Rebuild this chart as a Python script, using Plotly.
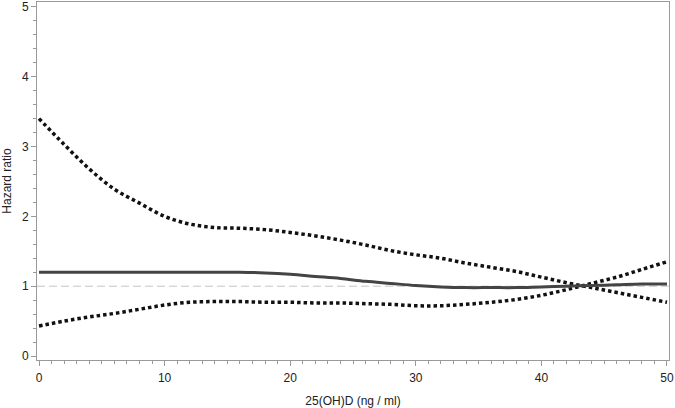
import plotly.graph_objects as go

# 25(OH)D values (ng/ml) and estimated hazard ratio curve with 95% CI
vitd = [0, 2, 4, 6, 8, 10, 12, 14, 16, 18, 20, 22, 24, 26, 28, 30, 32, 34, 36, 38, 40, 42, 44, 46, 48, 50]
hr = [1.20, 1.20, 1.20, 1.20, 1.20, 1.20, 1.20, 1.20, 1.20, 1.19, 1.17, 1.14, 1.11, 1.07, 1.04, 1.01,
      0.99, 0.98, 0.98, 0.98, 0.99, 1.00, 1.01, 1.02, 1.03, 1.03]
hr_upper = [3.40, 3.03, 2.68, 2.39, 2.19, 2.00, 1.89, 1.84, 1.83, 1.81, 1.77, 1.72, 1.66, 1.59, 1.51, 1.45,
            1.40, 1.33, 1.27, 1.21, 1.13, 1.05, 0.98, 0.91, 0.84, 0.77]
hr_lower = [0.43, 0.50, 0.56, 0.61, 0.67, 0.73, 0.77, 0.78, 0.78, 0.77, 0.77, 0.76, 0.76, 0.75, 0.74, 0.72,
            0.72, 0.74, 0.77, 0.81, 0.87, 0.95, 1.04, 1.13, 1.24, 1.35]

fig = go.Figure()

# reference line at HR = 1
fig.add_hline(y=1, line=dict(color="#c4c4c4", width=1, dash="8px,4px"), layer="below")

for ys in (hr_upper, hr_lower):
    fig.add_trace(go.Scatter(x=vitd, y=ys, mode="lines", line_shape="spline",
                             line=dict(color="#111111", width=3.5, dash="3.5px,3px")))

fig.add_trace(go.Scatter(x=vitd, y=hr, mode="lines", line_shape="spline",
                         line=dict(color="#444444", width=3)))

axis_common = dict(
    showline=True, linecolor="#9a9a9a", linewidth=1, mirror=True,
    ticks="outside", tickcolor="#9a9a9a", ticklen=5, tickwidth=1,
    showgrid=False, zeroline=False,
    tickfont=dict(family="Liberation Sans, Arial", size=12, color="#222222"),
    title_font=dict(family="Liberation Sans, Arial", size=12, color="#222222"),
)

fig.update_xaxes(range=[-0.16, 50.16], tick0=0, dtick=10,
                 minor=dict(dtick=1, ticks="outside", ticklen=3, tickcolor="#9a9a9a"),
                 title_text="25(OH)D (ng / ml)", title_standoff=14, ticklabelstandoff=2,
                 automargin=False, **axis_common)
fig.update_yaxes(range=[-0.057, 5.07], tick0=0, dtick=1,
                 minor=dict(dtick=0.2, ticks="outside", ticklen=3, tickcolor="#9a9a9a"),
                 title_text="Hazard ratio", title_standoff=8, automargin=False, **axis_common)

fig.update_layout(
    width=675, height=408,
    margin=dict(l=37, r=6, t=2, b=48),
    plot_bgcolor="white", paper_bgcolor="white",
    showlegend=False,
)

# drop the browser's default body margin so the figure sits at the page corner
fig.write_html("out.html", config={"displayModeBar": False},
               post_script="document.body.style.margin='0';")
